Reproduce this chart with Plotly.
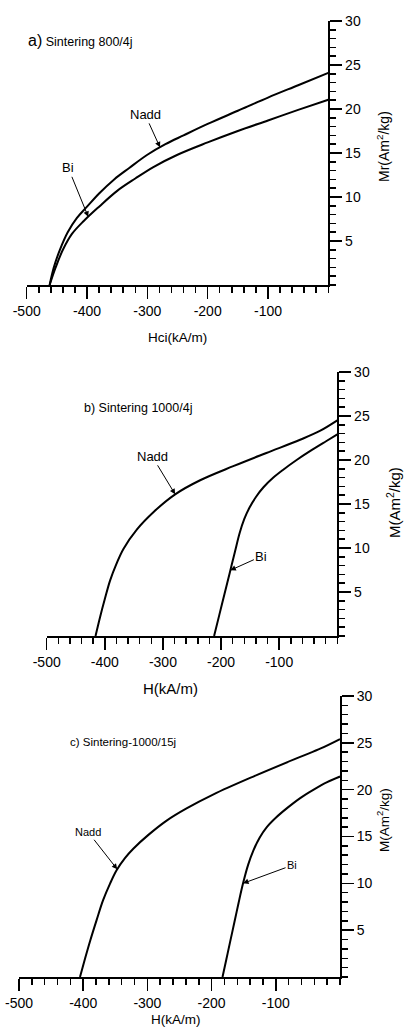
import numpy as np
import plotly.graph_objects as go

# ---------------- data ----------------
# Panel a) Sintering 800/4j  (Mr vs Hci)
a_nadd_h = [-462, -455, -445, -432, -417, -400, -380, -355, -330, -300, -270, -240, -200, -150, -100, -50, 0]
a_nadd_m = [0, 2.0, 4.0, 6.0, 7.6, 8.9, 10.4, 12.0, 13.3, 14.8, 16.0, 17.0, 18.3, 19.8, 21.3, 22.7, 24.1]
a_bi_h = [-462, -452, -440, -425, -405, -380, -350, -320, -290, -250, -200, -150, -100, -50, 0]
a_bi_m = [0, 2.0, 4.0, 5.8, 7.3, 8.9, 10.7, 12.1, 13.4, 14.8, 16.2, 17.5, 18.7, 19.9, 21.05]

# Panel b) Sintering 1000/4j
b_nadd_h = [-416, -408, -400, -391, -380, -368, -345, -316, -279, -236, -179, -122, -64, -30, 0]
b_nadd_m = [0, 2.2, 4.2, 6.3, 8.2, 9.9, 12.1, 14.1, 16.1, 17.7, 19.3, 20.8, 22.3, 23.3, 24.5]
b_bi_h = [-212, -203, -194, -185, -176, -168, -160, -151, -140, -127, -110, -93, -70, -47, -20, 0]
b_bi_m = [0, 2.4, 4.8, 7.2, 9.6, 11.7, 13.3, 14.6, 15.8, 16.9, 18.0, 18.9, 20.0, 21.0, 22.1, 22.9]

# Panel c) Sintering-1000/15j
c_nadd_h = [-405, -397, -389, -379, -369, -358, -348, -335, -322, -298, -270, -239, -197, -135, -62, -30, 0]
c_nadd_m = [0, 2.0, 3.9, 6.1, 8.2, 10.0, 11.4, 12.7, 13.7, 15.2, 16.7, 18.0, 19.5, 21.4, 23.5, 24.4, 25.4]
c_bi_h = [-183, -177, -171, -164, -158, -151, -143, -135, -125, -114, -100, -83, -62, -41, -20, 0]
c_bi_m = [0, 1.9, 3.8, 6.0, 7.9, 10.0, 12.0, 13.5, 14.9, 16.0, 17.0, 18.0, 19.1, 20.0, 20.8, 21.4]

x_tickvals = [-500, -400, -300, -200, -100]
x_ticktext = ["-500", "-400", "-300", "-200", "-100"]
y_tickvals = [5, 10, 15, 20, 25, 30]
y_ticktext = ["5", "10", "15", "20", "25", "30"]

# ---------------- figure ----------------
W, H = 404, 1028
FONT = "Liberation Sans, Arial, sans-serif"


def xd(px0, px1):
    return [px0 / W, px1 / W]


def yd(py_bottom, py_top):
    return [1 - py_bottom / H, 1 - py_top / H]


panels = [
    dict(nadd=(a_nadd_h, a_nadd_m), bi=(a_bi_h, a_bi_m), xdom=xd(26.7, 328.3), ydom=yd(285, 21)),
    dict(nadd=(b_nadd_h, b_nadd_m), bi=(b_bi_h, b_bi_m), xdom=xd(46.7, 337.3), ydom=yd(636, 372)),
    dict(nadd=(c_nadd_h, c_nadd_m), bi=(c_bi_h, c_bi_m), xdom=xd(19, 340), ydom=yd(977, 696)),
]

fig = go.Figure()
layout = dict(
    width=W, height=H, autosize=False,
    margin=dict(l=0, r=0, t=0, b=0, pad=0),
    paper_bgcolor="white", plot_bgcolor="white",
    showlegend=False,
    font=dict(family=FONT, color="black"),
)

for i, p in enumerate(panels, start=1):
    xa = "x" if i == 1 else f"x{i}"
    ya = "y" if i == 1 else f"y{i}"
    for key in ("nadd", "bi"):
        hx, my = p[key]
        fig.add_trace(go.Scatter(
            x=hx, y=my, mode="lines", xaxis=xa, yaxis=ya,
            line=dict(color="black", width=2, shape="spline", smoothing=1.0),
            hoverinfo="skip",
        ))
    layout["xaxis" if i == 1 else f"xaxis{i}"] = dict(
        domain=p["xdom"], anchor=ya, range=[-500, 0], automargin=False,
        tickmode="array", tickvals=x_tickvals, ticktext=x_ticktext,
        ticks="outside", ticklen=12, tickwidth=1.5, tickcolor="black",
        showline=True, linewidth=2, linecolor="black",
        showgrid=False, zeroline=False,
        tickfont=dict(size=14, family=FONT, color="black"),
        minor=dict(tickmode="linear", tick0=0, dtick=20, ticks="outside",
                   ticklen=6, tickwidth=1.5, tickcolor="black", showgrid=False),
        fixedrange=True,
    )
    layout["yaxis" if i == 1 else f"yaxis{i}"] = dict(
        domain=p["ydom"], anchor=xa, range=[0, 30], side="right", automargin=False,
        tickmode="array", tickvals=y_tickvals, ticktext=y_ticktext,
        ticks="outside", ticklen=12, tickwidth=1.5, tickcolor="black",
        showline=True, linewidth=2, linecolor="black",
        showgrid=False, zeroline=False,
        tickfont=dict(size=14, family=FONT, color="black"),
        minor=dict(tickmode="linear", tick0=0, dtick=1, ticks="outside",
                   ticklen=6, tickwidth=1.5, tickcolor="black", showgrid=False),
        fixedrange=True,
    )

fig.update_layout(**layout)


def tip(hx, my, xv):
    return xv, float(np.interp(xv, hx, my))


ann = []


def label_arrow(text, xa, ya, hx, my, xv, ax, ay, size):
    x0, y0 = tip(hx, my, xv)
    ann.append(dict(text=text, x=x0, y=y0, xref=xa, yref=ya, ax=ax, ay=ay,
                    showarrow=True, arrowhead=2, arrowsize=1.1, arrowwidth=1,
                    arrowcolor="black", font=dict(size=size, family=FONT, color="black")))


# curve labels
label_arrow("Nadd", "x", "y", a_nadd_h, a_nadd_m, -279, -15, -33, 13)
label_arrow("Bi", "x", "y", a_bi_h, a_bi_m, -398, -20, -49, 13)
label_arrow("Nadd", "x2", "y2", b_nadd_h, b_nadd_m, -279, -23, -38, 13)
label_arrow("Bi", "x2", "y2", b_bi_h, b_bi_m, -184, 31, -14, 13)
label_arrow("Nadd", "x3", "y3", c_nadd_h, c_nadd_m, -347, -29, -37, 11)
label_arrow("Bi", "x3", "y3", c_bi_h, c_bi_m, -151, 49, -18, 11)


def text(t, x, y, size, angle=0, xanchor="center"):
    ann.append(dict(text=t, x=x / W, y=1 - y / H, xref="paper", yref="paper",
                    showarrow=False, textangle=angle, xanchor=xanchor, yanchor="middle",
                    font=dict(size=size, family=FONT, color="black")))


# panel titles
ann.append(dict(text="<span style='font-size:16px'>a)</span> Sintering 800/4j",
                x=26 / W, y=1 - 41 / H, xref="paper", yref="paper", showarrow=False,
                xanchor="left", yanchor="middle", font=dict(size=12.5, family=FONT, color="black")))
text("b) Sintering 1000/4j", 82, 408, 12.5, xanchor="left")
text("c) Sintering-1000/15j", 68, 742, 11.5, xanchor="left")

# axis titles
text("Hci(kA/m)", 177, 338, 13.5)
text("H(kA/m)", 170, 688, 15)
text("H(kA/m)", 176, 1019, 13.5)
text("Mr(Am<sup>2</sup>/kg)", 383, 147, 14, angle=-90)
text("M(Am<sup>2</sup>/kg)", 393, 503, 15, angle=-90)
text("M(Am<sup>2</sup>/kg)", 383, 820, 13.5, angle=-90)

fig.update_layout(annotations=ann)
fig.write_html(
    "out.html",
    config={"displayModeBar": False, "staticPlot": True},
    post_script="document.body.style.margin='0';document.body.style.overflow='hidden';",
)
